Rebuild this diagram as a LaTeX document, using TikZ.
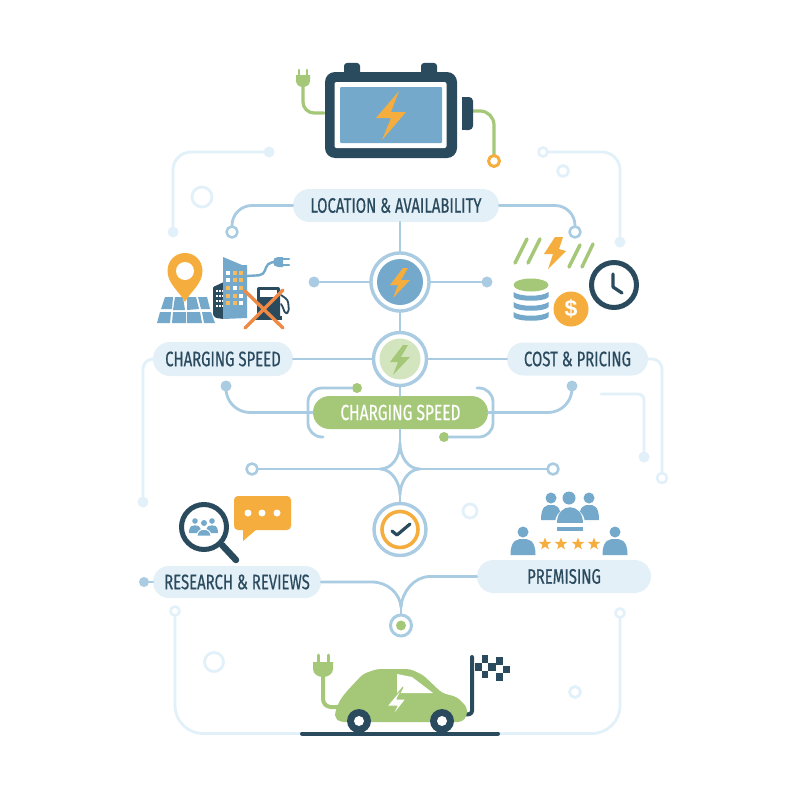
\documentclass[tikz,border=0pt]{standalone}
\usepackage{fontspec}
\usetikzlibrary{shapes.misc,shapes.geometric,calc}
\newfontfamily\labfont[FakeStretch=0.71,FakeBold=0.5]{Fira Sans}
\newfontfamily\dolfont{Liberation Sans}
\definecolor{inkc}{HTML}{2A4A5E}
\definecolor{pillc}{HTML}{E3F0F8}
\definecolor{linec}{HTML}{A9CCE3}
\definecolor{palec}{HTML}{E2F1F9}
\definecolor{bluec}{HTML}{74A9CC}
\definecolor{greenc}{HTML}{A5C878}
\definecolor{orangec}{HTML}{F5AE3D}
\definecolor{xc}{HTML}{EE8A45}
\definecolor{softg}{HTML}{D3E5BE}
\tikzset{
  pill/.style={rounded rectangle,fill=pillc,text=inkc,font=\labfont\fontsize{21}{21}\selectfont,inner sep=0pt},
  gpill/.style={pill,fill=greenc,text=white},
  wire/.style={draw=linec,line width=2.8pt,rounded corners=#1},
  wire/.default=16pt,
  faint/.style={draw=palec,line width=2.8pt,rounded corners=#1},
  faint/.default=18pt,
  dotn/.style={circle,fill=#1,inner sep=0pt,minimum size=11pt},
  ringn/.style={circle,draw=#1,fill=white,line width=2.6pt,inner sep=0pt,minimum size=10pt},
  decor/.style={circle,draw=palec,line width=2.8pt,inner sep=0pt},
  hub/.style={circle,draw=linec,fill=white,line width=3.4pt,inner sep=0pt},
  starn/.style={star,star points=5,star point ratio=2.4,fill=orangec,inner sep=0pt,minimum size=13pt},
}
\newcommand{\person}[5]{% x, head y, head r, half width, bottom
  \fill[bluec] (#1,#2) circle (#3pt);
  \fill[bluec] (#1-#4,#5) .. controls (#1-#4,#2+#3+1.5) and (#1-#4*0.4,#2+#3+1.5) .. (#1,#2+#3+1.5) .. controls (#1+#4*0.4,#2+#3+1.5) and (#1+#4,#2+#3+1.5) .. (#1+#4,#5) -- cycle;
}
\begin{document}
\begin{tikzpicture}[x=1pt,y=-1pt,line cap=round,line join=round]
\useasboundingbox (0,0) rectangle (800,800);
\fill[white] (0,0) rectangle (800,800);

% ---------- nodes of the network
\node[pill,minimum width=206pt,minimum height=33pt] (loc) at (396,205.5) {LOCATION \& AVAILABILITY};
\node[pill,minimum width=140pt,minimum height=34pt] (spd) at (223,359) {CHARGING SPEED};
\node[pill,minimum width=141pt,minimum height=33pt] (cost) at (577.5,359) {COST \& PRICING};
\node[gpill,minimum width=175pt,minimum height=33pt,font=\labfont\fontsize{21.8}{21.8}\selectfont] (gp) at (400.5,412.5) {CHARGING SPEED};
\node[pill,minimum width=168pt,minimum height=32pt] (res) at (237,582) {RESEARCH \& REVIEWS};
\node[pill,minimum width=174pt,minimum height=33pt] (pre) at (564,576.5) {PREMISING};
\node[hub,minimum size=58pt] (c1) at (400,282) {};
\node[hub,minimum size=53pt] (c2) at (400,359) {};
\node[hub,minimum size=52pt] (c3) at (400,529.5) {};
\node[hub,minimum size=21pt,line width=3pt] (c4) at (401,625.5) {};
\coordinate (xa) at (400,443);
\coordinate (xb) at (400,495);
\coordinate (xl) at (380,469);
\coordinate (xr) at (420,469);
\coordinate (xm) at (401,607);

% ---------- faint outer wires
\node[dotn=palec] (pa) at (269,152) {};
\node[dotn=palec] (pb) at (173,232) {};
\node[ringn=palec,minimum size=9pt] (pc) at (543,152) {};
\node[dotn=palec] (pd) at (620,242) {};
\node[dotn=palec] (pe) at (143,502) {};
\node[ringn=palec,minimum size=10pt] (pf) at (662,478) {};
\coordinate (pg) at (601,394);
\node[dotn=palec] (ph) at (644,457) {};
\node[ringn=palec,minimum size=9pt] (pi) at (175,611) {};
\node[ringn=palec,minimum size=9pt] (pj) at (620,613) {};
\coordinate (rdl) at (302,733.5);
\coordinate (rdr) at (498,733.5);
\draw[faint] (pa) -| (pb);
\draw[faint] (pc) -| (pd);
\draw[faint=10pt] (spd.west) -| (pe);
\draw[faint=10pt] (cost.east) -| (pf);
\draw[faint=6pt] (pg) -| (ph);
\draw[faint=28pt] (pi) |- (rdl);
\draw[faint=28pt] (pj) |- (rdr);
\node[decor,minimum size=20pt] at (202,197) {};
\node[decor,minimum size=11pt] at (563,171) {};
\node[decor,minimum size=14pt] at (470,511) {};
\node[decor,minimum size=19pt] at (214,662) {};
\node[decor,minimum size=11pt] at (575,692) {};

% ---------- blue wires
\node[ringn=linec,minimum size=11pt] (la) at (232,232) {};
\node[ringn=linec,minimum size=11pt] (lb) at (575,232) {};
\draw[wire=20pt] (loc.west) -| (la);
\draw[wire=20pt] (loc.east) -| (lb);
\draw[wire] (loc.south -| c1) -- (c1.north);
\node[dotn=linec] (da) at (314,282) {};
\node[dotn=linec] (db) at (487,282) {};
\draw[wire] (da) -- (c1);
\draw[wire] (db) -- (c1);
\draw[wire] (c1.south) -- (c2.north);
\draw[wire] (spd.east) -- (c2.west);
\draw[wire] (cost.west) -- (c2.east);
\draw[wire] (c2.south) -- (gp.north -| c2);
\node[dotn=linec] (dc) at (226,386) {};
\node[dotn=linec] (dd) at (572,386) {};
\draw[wire=24pt] (gp.west) -| (dc);
\draw[wire=24pt] (gp.east) -| (dd);
\node[dotn=greenc,minimum size=10pt] (ga) at (357,388) {};
\node[dotn=greenc,minimum size=10pt] (gb) at (444,437) {};
\coordinate (ba) at (323,437);
\coordinate (bb) at (477,388);
\draw[wire=14pt] (ga) -- (308,388) -- (308,437) -- (ba);
\draw[wire=14pt] (bb) -- (493,388) -- (493,437) -- (gb);
\draw[wire] (gp.south -| c2) -- (xa);
\node[ringn=linec,minimum size=11pt] (lc) at (252,469) {};
\node[ringn=linec,minimum size=11pt] (ld) at (553,469) {};
\draw[wire] (lc) -- (xl);
\draw[wire] (ld) -- (xr);
\draw[draw=linec,line width=2.8pt] (xa) .. controls (400,457) and (408,469) .. (xr) .. controls (408,469) and (400,483) .. (xb)
  .. controls (400,483) and (392,469) .. (xl) .. controls (392,469) and (400,457) .. (xa);
\draw[wire] (xb) -- (c3.north);
\node[dotn=linec,minimum size=10pt] (de) at (144,582) {};
\draw[wire] (de) -- (res.west);
\draw[draw=linec,line width=2.8pt] (res.east) -- (372,582) .. controls (388,582) and (400,594) .. (xm);
\draw[draw=linec,line width=2.8pt] (pre.west) -- (430,576.5) .. controls (414,576.5) and (402,592) .. (xm);
\draw[wire] (xm) -- (c4.north);
\fill[greenc] (c4) circle (5pt);

% ---------- hub contents
\fill[bluec] (c1) circle (23pt);
\fill[orangec] (403,268) -- (390,285) -- (398,285) -- (393,298) -- (410,280) -- (401,280) -- (408,268) -- cycle;
\fill[softg] (c2) circle (20.5pt);
\fill[greenc] (403,345) -- (390,362) -- (398,362) -- (393,375) -- (410,357) -- (401,357) -- (408,345) -- cycle;
\draw[orangec,line width=3.6pt] (c3) circle (18pt);
\draw[inkc,line width=3.2pt] (392,531) -- (397,535) -- (410,524);

% ---------- battery
\draw[greenc,line width=3.2pt,rounded corners=11pt] (324,113) -- (303,113) -- (303,85);
\fill[greenc] (296,75) -- (310,75) -- (310,81) .. controls (310,85) and (306,87) .. (303,87) .. controls (300,87) and (296,85) .. (296,81) -- cycle;
\draw[greenc,line width=2.4pt] (299,76) -- (299,70) (307,76) -- (307,70);
\draw[greenc,line width=3.2pt,rounded corners=14pt] (473,111) -- (494,111) -- (494,157);
\node[ringn=orangec,line width=3pt,minimum size=11pt] (bo) at (494,161) {};
\fill[inkc,rounded corners=3pt] (344,80) -- (344,63) -- (360,63) -- (360,80) -- cycle;
\fill[inkc,rounded corners=3pt] (421,80) -- (421,63) -- (437,63) -- (437,80) -- cycle;
\fill[inkc,rounded corners=4pt] (462,97) -- (473,97) -- (473,130) -- (462,130) -- cycle;
\fill[inkc] (462,97) rectangle (467,130);
\fill[inkc,rounded corners=10pt] (325,72) rectangle (457,158);
\fill[white,rounded corners=2pt] (334.5,82) rectangle (446.5,148);
\fill[bluec,rounded corners=1pt] (340,87) rectangle (442,143);
\fill[orangec] (399,91) -- (376,118) -- (391,118) -- (382,140) -- (406,112) -- (391,112) -- cycle;

% ---------- map, buildings, pump
\fill[bluec] (165,297) -- (173,297) -- (172,309) -- (161,309) -- cycle;
\fill[bluec] (160,312) -- (171,312) -- (170,323) -- (157,323) -- cycle;
\fill[bluec] (175,297) -- (183,297) -- (185,310) -- (173,310) -- cycle;
\fill[bluec] (173,312) -- (186,312) -- (186,323) -- (172,323) -- cycle;
\fill[bluec] (187,310) -- (187,297) -- (196,297) -- (199,309) -- cycle;
\fill[bluec] (187,312) -- (200,312) -- (202,323) -- (187,323) -- cycle;
\fill[bluec] (198,297) -- (207,297) -- (210,309) -- (201,309) -- cycle;
\fill[bluec] (202,312) -- (211,312) -- (215,323) -- (204,323) -- cycle;
\fill[orangec] (185,302) .. controls (180,292) and (167.5,284) .. (167.5,271) .. controls (167.5,261) and (175,253) .. (185,253) .. controls (195,253) and (202.5,261) .. (202.5,271) .. controls (202.5,284) and (190,292) .. (185,302) -- cycle;
\fill[white] (185,271) circle (9pt);
\draw[bluec,line width=2.4pt,rounded corners=5pt] (247,276) -- (264,275) -- (267,263) -- (275,262);
\fill[bluec] (283,257) -- (283,267) -- (278,267) .. controls (275,267) and (273,265) .. (273,262) .. controls (273,259) and (275,257) .. (278,257) -- cycle;
\draw[bluec,line width=2.2pt] (283,259) -- (289,259) (283,265) -- (289,265);
\fill[inkc,rounded corners=1pt] (213,287) -- (224,282) -- (224,319) -- (216,318) -- (213,315) -- cycle;
\foreach \yy in {290,295,300,305}{\foreach \xx in {216,219,222}{\fill[white] (\xx,\yy) rectangle (\xx+2,\yy+2.4);}}
\fill[bluec] (223,257) -- (242,265) -- (247,265) -- (247,318) -- (223,319) -- cycle;
\foreach \yy/\aa/\bb/\cc in {271/white/orangec/orangec,278/white/orangec/orangec,285.5/orangec/white/orangec,293.5/orangec/orangec/white,300.5/orangec/orangec/white}{
  \fill[\aa!85!white] (226,\yy) rectangle (230,\yy+4);
  \fill[\bb!85!white] (233,\yy) rectangle (237,\yy+4);
  \fill[\cc!85!white] (239,\yy) rectangle (243,\yy+4);
}
\fill[inkc,rounded corners=2pt] (257,287) rectangle (280,319);
\fill[white] (260,290) rectangle (277,297);
\fill[inkc] (255,316) rectangle (282,320);
\draw[inkc,line width=1.8pt,rounded corners=3pt] (281,295) -- (288,300) -- (289,312) -- (285,314) -- (283,307) -- (281,304);
\draw[xc,line width=3.4pt] (245,291) -- (283,328) (283,290) -- (245,328);

% ---------- cost icons
\draw[greenc,line width=3.4pt] (515,263) -- (527,239) (528,263) -- (540,239) (569,267) -- (580,245) (582,267) -- (593,244);
\fill[orangec] (555,237) -- (563,237) -- (559,249) -- (566,251) -- (548,269) -- (553,254) -- (544,254) -- cycle;
\draw[inkc,line width=5pt] (614,285) circle (22.5pt);
\draw[inkc,line width=3.2pt] (613,274) -- (613,287) -- (622,293);
\foreach \yy in {292,302,312}{
  \fill[bluec] (513.5,\yy) .. controls (520,\yy+5) and (542,\yy+5) .. (548.5,\yy) -- (548.5,\yy+5) .. controls (545,\yy+10) and (517,\yy+10) .. (513.5,\yy+5) -- cycle;
}
\fill[greenc] (531,285) ellipse (17.5pt and 6.5pt);
\node[circle,fill=orangec,text=white,minimum size=35pt,inner sep=0pt,font=\dolfont\bfseries\fontsize{23}{23}\selectfont] (coin) at (571,309) {\$};

% ---------- research icons
\fill[orangec,rounded corners=4pt] (234,496) -- (291,496) -- (291,530) -- (234,530) -- cycle;
\fill[orangec] (243,528) -- (243,541) -- (257,529) -- cycle;
\foreach \xx in {248,262,277}{\fill[white] (\xx,513) circle (3.5pt);}
\draw[inkc,line width=6.5pt] (222,545) -- (236,560);
\fill[white] (204,527) circle (22pt);
\draw[inkc,line width=5pt] (204,527) circle (22.5pt);
\person{195}{521}{2.8}{6}{533}
\person{212}{521}{2.8}{6}{533}
\draw[white,line width=1pt,fill=bluec] (197,536) .. controls (197,527) and (211,527) .. (211,536) -- cycle;
\fill[bluec] (204,523) circle (3pt);

% ---------- premising icons
\person{551}{498}{5.5}{10}{520}
\person{589}{498}{5.5}{10}{520}
\fill[white] (569,498) circle (8pt);
\fill[white] (555,524) .. controls (555,503) and (585,503) .. (585,524) -- cycle;
\fill[bluec] (569,498) circle (6.5pt);
\fill[bluec] (557,523) .. controls (557,502) and (583,502) .. (583,523) -- cycle;
\fill[bluec] (557,527) rectangle (583,531);
\person{523}{532}{5.5}{12.5}{555}
\person{615}{532}{5.5}{12.5}{555}
\foreach \xx in {545,561,578,594}{\node[starn] at (\xx,544) {};}

% ---------- car
\draw[greenc,line width=4pt,rounded corners=8pt] (323,675) -- (323,707) -- (342,707);
\fill[greenc] (313,662) -- (333,662) -- (333,669) .. controls (333,674) and (328,677) .. (323,677) .. controls (318,677) and (313,674) .. (313,669) -- cycle;
\draw[greenc,line width=3pt] (318,663) -- (318,655) (328,663) -- (328,655);
\draw[inkc,line width=4pt,rounded corners=3pt] (465,714.5) -- (472,714) -- (472,657);
\fill[greenc,rounded corners=4pt] (335,712) -- (340,700) -- (347,691) -- (363,674) -- (377,669) -- (410,669) -- (423,675) -- (442,693) -- (457,697) -- (467,707) -- (467,716) -- (462,722) -- (340,722) -- (335,718) -- cycle;
\fill[white] (397,674) -- (412,677) -- (433,693) -- (397,693) -- cycle;
\filldraw[fill=white,draw=greenc,line width=1pt] (403,687) -- (387,706) -- (397,706) -- (391,718) -- (406,699) -- (397,699) -- cycle;
\fill[inkc] (359,721) circle (12pt) (442,721) circle (12pt);
\fill[white] (359,721) circle (5pt) (442,721) circle (5pt);
\foreach \xa/\ya/\xb/\yb in {482/655/488/663,496/657/503/665,475/663/482/671,488/663/496/671,503/666/510/673,482/671/488/678,496/673/503/681}{
  \fill[inkc] (\xa,\ya) rectangle (\xb,\yb);
}
\draw[inkc,line width=4pt] (rdl) -- (rdr);
\end{tikzpicture}
\end{document}
